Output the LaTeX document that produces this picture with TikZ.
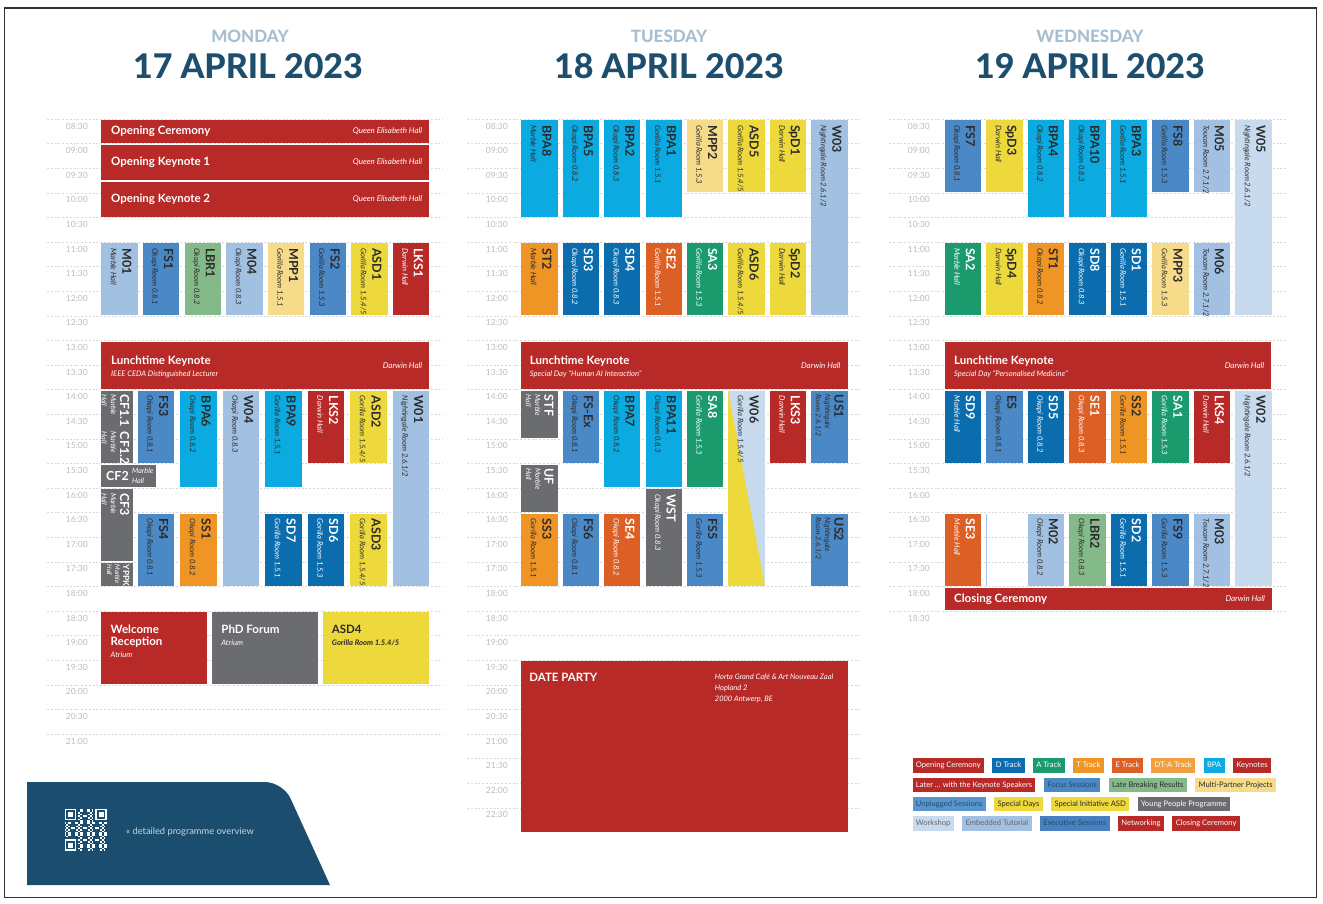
\documentclass[tikz,border=0pt]{standalone}
\usepackage{fontspec}
\setmainfont{Lato}
\newfontfamily\headfont{Lato Heavy}
\usetikzlibrary{positioning}

\definecolor{cKn}{HTML}{B82A27}
\definecolor{cSD}{HTML}{0B6DAE}
\definecolor{cSA}{HTML}{1B9A6E}
\definecolor{cST}{HTML}{EE9526}
\definecolor{cSE}{HTML}{DC5F25}
\definecolor{cDTA}{HTML}{F0A040}
\definecolor{cBPA}{HTML}{0BAAE0}
\definecolor{cFS}{HTML}{4A88C6}
\definecolor{cUS}{HTML}{5A95CF}
\definecolor{cES}{HTML}{4A80BF}
\definecolor{cLBR}{HTML}{84B98A}
\definecolor{cMPP}{HTML}{F6DB8B}
\definecolor{cASD}{HTML}{EDD93C}
\definecolor{cYPP}{HTML}{6B6C6F}
\definecolor{cWS}{HTML}{C8DAEE}
\definecolor{cET}{HTML}{A2C0E2}
\definecolor{cDark}{HTML}{2A2A2A}
\definecolor{cBan}{HTML}{1B4D6E}
\definecolor{cBanTxt}{HTML}{C8D5E0}
\definecolor{cHead}{HTML}{1D4E6E}
\definecolor{cDay}{HTML}{A6C0D2}
\definecolor{cTime}{HTML}{BDBDBD}
\definecolor{cLine}{HTML}{D9D9D9}

% time of day -> y (in px)
\newcommand{\ty}[1]{(242+((#1)-11)*49.2)}
\newcommand{\sttl}{\fontsize{12.5}{12.5}\selectfont\bfseries\upshape}
\newcommand{\bttl}{\fontsize{11.5}{14}\selectfont\bfseries\upshape}
\newcommand{\bsub}{\fontsize{7.6}{14}\selectfont\mdseries\itshape}

\tikzset{
  sbox/.style={rectangle,inner sep=0pt,anchor=north west,draw=none},
  vlbl/.style={rotate=-90,anchor=north west,align=left,inner sep=0pt,
    font=\fontsize{7.6}{11.6}\selectfont\itshape},
  vlbln/.style={vlbl,font=\fontsize{7.2}{9.2}\selectfont\itshape},
  hroom/.style={inner sep=0pt,font=\fontsize{8}{10}\selectfont\itshape},
  htext/.style={inner sep=0pt,align=left},
  timelbl/.style={anchor=east,inner sep=0pt,text=cTime,font=\fontsize{8.5}{10}\selectfont},
  slotline/.style={cLine,line width=0.6pt,dash pattern=on 2pt off 1.8pt},
  lg/.style={rectangle,inner xsep=3.4pt,inner ysep=0pt,minimum height=14.5,
    text height=5.7pt,text depth=1.7pt,font=\fontsize{7.6}{9}\selectfont},
  trkn/.style={fill=cKn,text=white},
  trsd/.style={fill=cSD,text=white},
  trsa/.style={fill=cSA,text=white},
  trst/.style={fill=cST,text=cDark},
  trse/.style={fill=cSE,text=white},
  trbpa/.style={fill=cBPA,text=cDark},
  trfs/.style={fill=cFS,text=cDark},
  trlbr/.style={fill=cLBR,text=cDark},
  trmpp/.style={fill=cMPP,text=cDark},
  trasd/.style={fill=cASD,text=cDark},
  tryp/.style={fill=cYPP,text=white},
  trws/.style={fill=cWS,text=cDark},
  tret/.style={fill=cET,text=cDark},
}

% session: name, x, width, from, to, style, title, room
\newcommand{\sess}[8]{%
  \node[sbox,#6,minimum width=#3,minimum height={((#5)-(#4))*49.2-2}] (#1) at (#2,{\ty{#4}+1}) {};
  \node[vlbl,#6,fill=none] (#1l) at ([xshift=-6pt,yshift=-5pt]#1.north east) {{\sttl #7}\\#8};}
\newcommand{\sessn}[8]{%
  \node[sbox,#6,minimum width=#3,minimum height={((#5)-(#4))*49.2-2}] (#1) at (#2,{\ty{#4}+1}) {};
  \node[vlbln,#6,fill=none] (#1l) at ([xshift=-4pt,yshift=-4pt]#1.north east) {{\sttl #7}\\#8};}
% wide block: name, x, width, from, to, style
\newcommand{\hblk}[6]{%
  \node[sbox,#6,minimum width=#3,minimum height={((#5)-(#4))*49.2-2}] (#1) at (#2,{\ty{#4}+1}) {};}
% time axis: tag, label x, line from, line to, last index
\newcommand{\dayaxis}[5]{%
  \foreach \i in {0,...,#5}{%
    \pgfmathtruncatemacro\hh{8+(\i+1)/2}%
    \pgfmathtruncatemacro\mm{mod(\i+1,2)*30}%
    \draw[slotline] (#3,{\ty{8.5+\i/2}}) -- (#4,{\ty{8.5+\i/2}});
    \node[timelbl] (tm#1\i) at (#2,{\ty{8.5+\i/2}+7}) {\ifnum\hh<10 0\fi\hh:\ifnum\mm=0 00\else30\fi};
  }}

\begin{document}
\begin{tikzpicture}[x=1pt,y=-1pt]

  \useasboundingbox (0,0) rectangle (1323,903);
  \fill[white] (0,0) rectangle (1323,903);
  \draw[line width=1.3pt,black!80] (4.5,8) rectangle (1316.5,897.5);

  % headers
  \node[font=\fontsize{17}{18}\selectfont\headfont,text=cDay] (monday) at (250,36) {MONDAY};
  \node[font=\fontsize{34}{36}\selectfont\headfont,text=cHead] (mondate) at (248,66) {17 APRIL 2023};
  \node[font=\fontsize{17}{18}\selectfont\headfont,text=cDay] (tuesday) at (669,36) {TUESDAY};
  \node[font=\fontsize{34}{36}\selectfont\headfont,text=cHead] (tuedate) at (669,66) {18 APRIL 2023};
  \node[font=\fontsize{17}{18}\selectfont\headfont,text=cDay] (wednesday) at (1090,36) {WEDNESDAY};
  \node[font=\fontsize{34}{36}\selectfont\headfont,text=cHead] (weddate) at (1090,66) {19 APRIL 2023};

  % time axes
  \dayaxis{mon}{88}{47}{443}{25}
  \dayaxis{tue}{508}{467}{862}{28}
  \dayaxis{wed}{930}{889}{1287}{20}

  % Monday

  \hblk{oc}{101}{328}{8.5}{9}{trkn}
  \node[htext,text=white,anchor=west] (octl) at ([xshift=10pt]oc.west) {\bttl Opening Ceremony};
  \node[hroom,text=white,anchor=east] (ocrm) at ([xshift=-7pt]oc.east) {Queen Elisabeth Hall};
  \hblk{okone}{101}{328}{9}{9.75}{trkn}
  \node[htext,text=white,anchor=west] (okonetl) at ([xshift=10pt]okone.west) {\bttl Opening Keynote 1};
  \node[hroom,text=white,anchor=east] (okonerm) at ([xshift=-7pt]okone.east) {Queen Elisabeth Hall};
  \hblk{oktwo}{101}{328}{9.75}{10.5}{trkn}
  \node[htext,text=white,anchor=west] (oktwotl) at ([xshift=10pt]oktwo.west) {\bttl Opening Keynote 2};
  \node[hroom,text=white,anchor=east] (oktworm) at ([xshift=-7pt]oktwo.east) {Queen Elisabeth Hall};

  \sess{M01}{101}{36.3}{11}{12.5}{tret}{M01}{Marble Hall}
  \sess{FS1}{142.7}{36.3}{11}{12.5}{trfs}{FS1}{Okapi Room 0.8.1}
  \sess{LBR1}{184.3}{36.3}{11}{12.5}{trlbr}{LBR1}{Okapi Room 0.8.2}
  \sess{M04}{226}{36.3}{11}{12.5}{tret}{M04}{Okapi Room 0.8.3}
  \sess{MPP1}{267.6}{36.3}{11}{12.5}{trmpp}{MPP1}{Gorilla Room 1.5.1}
  \sess{FS2}{309.3}{36.3}{11}{12.5}{trfs}{FS2}{Gorilla Room 1.5.3}
  \sess{ASD1}{351}{36.3}{11}{12.5}{trasd}{ASD1}{Gorilla Room 1.5.4/5}
  \sess{LKS1}{392.6}{36.3}{11}{12.5}{trkn}{LKS1}{Darwin Hall}

  \hblk{lkmon}{101}{328}{13}{14}{trkn}
  \node[htext,text=white,anchor=west] (lkmontl) at ([xshift=10pt,yshift=-1.5pt]lkmon.west)
    {\bttl Lunchtime Keynote\\\fontsize{7.6}{12.5}\selectfont\mdseries\itshape IEEE CEDA Distinguished Lecturer};
  \node[hroom,text=white,anchor=east] (lkmonrm) at ([xshift=-7pt]lkmon.east) {Darwin Hall};

  \node[sbox,tryp,minimum width=32,minimum height={1.5*49.2-2}] (CFone) at (101,{\ty{14}+1}) {};
  \node[vlbln,text=white] (CFonea) at ([xshift=-4pt,yshift=-3.5pt]CFone.north east) {{\sttl CF1.1}\\Marble\\Hall};
  \node[vlbln,text=white] (CFoneb) at ([xshift=-4pt,yshift=-41pt]CFone.north east) {{\sttl CF1.2}\\Marble\\Hall};
  \hblk{CFtwo}{101}{55}{15.5}{16}{tryp}
  \node[htext,text=white,anchor=west] (CFtwotl) at ([xshift=5pt]CFtwo.west) {\sttl CF2};
  \node[htext,text=white,anchor=west,font=\fontsize{7.2}{9.2}\selectfont\itshape,right=3pt of CFtwotl] (CFtworm) {Marble\\Hall};
  \sessn{CFthree}{101}{32}{16}{17.5}{tryp}{CF3}{Marble\\Hall}
  \node[sbox,tryp,minimum width=32,minimum height={0.5*49.2-2}] (YPPK) at (101,{\ty{17.5}+1}) {};
  \node[vlbln,text=white,font=\fontsize{6.5}{8}\selectfont\itshape] (YPPKl) at ([xshift=-4pt,yshift=-1.5pt]YPPK.north east)
    {{\fontsize{8.5}{8.5}\selectfont\bfseries\upshape YPPK}\\Marble\\Hall};

  \sess{FS3}{137.7}{36.3}{14}{15.5}{trfs}{FS3}{Okapi Room 0.8.1}
  \sess{BPA6}{180.2}{36.3}{14}{16}{trbpa}{BPA6}{Okapi Room 0.8.2}
  \sess{W04}{222.7}{36.3}{14}{18}{tret}{W04}{Okapi Room 0.8.3}
  \sess{BPA9}{265.2}{36.3}{14}{16}{trbpa}{BPA9}{Gorilla Room 1.5.1}
  \sess{LKS2}{307.7}{36.3}{14}{15.5}{trkn}{LKS2}{Darwin Hall}
  \sess{ASD2}{350.2}{36.3}{14}{15.5}{trasd}{ASD2}{Gorilla Room 1.5.4/5}
  \sess{W01}{392.7}{36.3}{14}{18}{tret}{W01}{Nightingale Room 2.6.1/2}
  \sess{FS4}{137.7}{36.3}{16.5}{18}{trfs}{FS4}{Okapi Room 0.8.1}
  \sess{SS1}{180.2}{36.3}{16.5}{18}{trst}{SS1}{Okapi Room 0.8.2}
  \sess{SD7}{265.2}{36.3}{16.5}{18}{trsd}{SD7}{Gorilla Room 1.5.1}
  \sess{SD6}{307.7}{36.3}{16.5}{18}{trsd}{SD6}{Gorilla Room 1.5.3}
  \sess{ASD3}{350.2}{36.3}{16.5}{18}{trasd}{ASD3}{Gorilla Room 1.5.4/5}

  \hblk{wr}{101}{105.7}{18.5}{20}{trkn}
  \node[htext,text=white,anchor=north west] (wrtl) at ([xshift=9.5pt,yshift=-12.5pt]wr.north west)
    {\bttl Welcome\\\bttl Reception\\\bsub Atrium};
  \hblk{phd}{211.7}{105.7}{18.5}{20}{tryp}
  \node[htext,text=white,anchor=north west] (phdtl) at ([xshift=9.5pt,yshift=-12.5pt]phd.north west)
    {\bttl PhD Forum\\\fontsize{7.6}{11.5}\selectfont\mdseries\itshape Atrium};
  \hblk{asdfour}{322.7}{105.6}{18.5}{20}{trasd}
  \node[htext,text=cDark,anchor=north west] (asdfourtl) at ([xshift=9pt,yshift=-12.5pt]asdfour.north west)
    {\bttl ASD4\\\fontsize{7.6}{11.5}\selectfont\bfseries\itshape Gorilla Room 1.5.4/5};

  % Tuesday

  \sess{BPA8}{521}{36.3}{8.5}{10.5}{trbpa}{BPA8}{Marble Hall}
  \sess{BPA5}{562.4}{36.3}{8.5}{10.5}{trbpa}{BPA5}{Okapi Room 0.8.2}
  \sess{BPA2}{603.9}{36.3}{8.5}{10.5}{trbpa}{BPA2}{Okapi Room 0.8.3}
  \sess{BPA1}{645.3}{36.3}{8.5}{10.5}{trbpa}{BPA1}{Gorilla Room 1.5.1}
  \sess{MPP2}{686.7}{36.3}{8.5}{10}{trmpp}{MPP2}{Gorilla Room 1.5.3}
  \sess{ASD5}{728.2}{36.3}{8.5}{10}{trasd}{ASD5}{Gorilla Room 1.5.4/5}
  \sess{SpD1}{769.6}{36.3}{8.5}{10}{trasd}{SpD1}{Darwin Hall}
  \sess{W03}{811}{36.3}{8.5}{12.5}{tret}{W03}{Nightingale Room 2.6.1/2}

  \sess{ST2}{521}{36.3}{11}{12.5}{trst}{ST2}{Marble Hall}
  \sess{SD3}{562.4}{36.3}{11}{12.5}{trsd}{SD3}{Okapi Room 0.8.2}
  \sess{SD4}{603.9}{36.3}{11}{12.5}{trsd}{SD4}{Okapi Room 0.8.3}
  \sess{SE2}{645.3}{36.3}{11}{12.5}{trse}{SE2}{Gorilla Room 1.5.1}
  \sess{SA3}{686.7}{36.3}{11}{12.5}{trsa}{SA3}{Gorilla Room 1.5.3}
  \sess{ASD6}{728.2}{36.3}{11}{12.5}{trasd}{ASD6}{Gorilla Room 1.5.4/5}
  \sess{SpD2}{769.6}{36.3}{11}{12.5}{trasd}{SpD2}{Darwin Hall}

  \hblk{lktue}{520.7}{326.6}{13}{14}{trkn}
  \node[htext,text=white,anchor=west] (lktuetl) at ([xshift=9pt,yshift=-1.5pt]lktue.west)
    {\bttl Lunchtime Keynote\\\fontsize{7.6}{12.5}\selectfont\mdseries\itshape Special Day ``Human AI Interaction''};
  \node[hroom,text=white,anchor=east] (lktuerm) at ([xshift=-7pt]lktue.east) {Darwin Hall};

  \sessn{STF}{521}{36.3}{14}{15}{tryp}{STF}{Marble\\Hall}
  \sessn{UF}{521}{36.3}{15.5}{16.5}{tryp}{UF}{Marble\\Hall}
  \sess{SS3}{521}{36.3}{16.5}{18}{trst}{SS3}{Gorilla Room 1.5.1}
  \sess{FSEx}{562.4}{36.3}{14}{15.5}{trfs}{FS-Ex}{Okapi Room 0.8.1}
  \sess{FS6}{562.4}{36.3}{16.5}{18}{trfs}{FS6}{Okapi Room 0.8.1}
  \sess{BPA7}{603.9}{36.3}{14}{16}{trbpa}{BPA7}{Okapi Room 0.8.2}
  \sess{SE4}{603.9}{36.3}{16.5}{18}{trse}{SE4}{Okapi Room 0.8.2}
  \sess{BPA11}{645.3}{36.3}{14}{16}{trbpa}{BPA11}{Okapi Room 0.8.3}
  \sess{WST}{645.3}{36.3}{16}{18}{tryp}{WST}{Okapi Room 0.8.3}
  \sess{SA8}{686.7}{36.3}{14}{16}{trsa}{SA8}{Gorilla Room 1.5.3}
  \sess{FS5}{686.7}{36.3}{16.5}{18}{trfs}{FS5}{Gorilla Room 1.5.3}
  \node[sbox,trws,minimum width=36.3,minimum height={4*49.2-2}] (W06) at (728.2,{\ty{14}+1}) {};
  \fill[cASD] (W06.north west) -- (W06.south west) -- (W06.south east) -- cycle;
  \node[vlbl,text=cDark] (W06l) at ([xshift=-6pt,yshift=-5pt]W06.north east) {{\sttl W06}\\Gorilla Room 1.5.4/5};
  \sess{LKS3}{769.6}{36.3}{14}{15.5}{trkn}{LKS3}{Darwin Hall}
  \sessn{US1}{811}{36.3}{14}{15.5}{trfs}{US1}{Nightingale\\Room 2.6.1/2}
  \sessn{US2}{811}{36.3}{16.5}{18}{trfs}{US2}{Nightingale\\Room 2.6.1/2}

  \hblk{dp}{520.7}{326.6}{19.5}{23}{trkn}
  \node[htext,text=white,anchor=west] (dptl) at ([xshift=8.5pt,yshift=-16.5pt]dp.north west)
    {\fontsize{11.5}{14}\selectfont\bfseries DATE PARTY};
  \node[htext,text=white,anchor=north west,font=\fontsize{7.5}{10.7}\selectfont\itshape] (dprm)
    at ([xshift=194pt,yshift=-13pt]dp.north west)
    {Horta Grand Café \& Art Nouveau Zaal\\Hopland 2\\2000 Antwerp, BE};

  % Wednesday

  \sess{FS7}{944.5}{36.3}{8.5}{10}{trfs}{FS7}{Okapi Room 0.8.1}
  \sess{SpD3}{986}{36.3}{8.5}{10}{trasd}{SpD3}{Darwin Hall}
  \sess{BPA4}{1027.5}{36.3}{8.5}{10.5}{trbpa}{BPA4}{Okapi Room 0.8.2}
  \sess{BPA10}{1069}{36.3}{8.5}{10.5}{trbpa}{BPA10}{Okapi Room 0.8.3}
  \sess{BPA3}{1110.5}{36.3}{8.5}{10.5}{trbpa}{BPA3}{Gorilla Room 1.5.1}
  \sess{FS8}{1152}{36.3}{8.5}{10}{trfs}{FS8}{Gorilla Room 1.5.3}
  \sess{M05}{1193.5}{36.3}{8.5}{10}{tret}{M05}{Toucan Room 2.7.1/2}
  \sess{W05}{1235}{36.3}{8.5}{12.5}{trws}{W05}{Nightingale Room 2.6.1/2}

  \sess{SA2}{944.5}{36.3}{11}{12.5}{trsa}{SA2}{Marble Hall}
  \sess{SpD4}{986}{36.3}{11}{12.5}{trasd}{SpD4}{Darwin Hall}
  \sess{ST1}{1027.5}{36.3}{11}{12.5}{trst}{ST1}{Okapi Room 0.8.2}
  \sess{SD8}{1069}{36.3}{11}{12.5}{trsd}{SD8}{Okapi Room 0.8.3}
  \sess{SD1}{1110.5}{36.3}{11}{12.5}{trsd}{SD1}{Gorilla Room 1.5.1}
  \sess{MPP3}{1152}{36.3}{11}{12.5}{trmpp}{MPP3}{Gorilla Room 1.5.3}
  \sess{M06}{1193.5}{36.3}{11}{12.5}{tret}{M06}{Toucan Room 2.7.1/2}

  \hblk{lkwed}{945}{326}{13}{14}{trkn}
  \node[htext,text=white,anchor=west] (lkwedtl) at ([xshift=9pt,yshift=-1.5pt]lkwed.west)
    {\bttl Lunchtime Keynote\\\fontsize{7.6}{12.5}\selectfont\mdseries\itshape Special Day ``Personalised Medicine''};
  \node[hroom,text=white,anchor=east] (lkwedrm) at ([xshift=-7pt]lkwed.east) {Darwin Hall};

  \sess{SD9}{944.5}{36.3}{14}{15.5}{trsd}{SD9}{Marble Hall}
  \sess{ES}{986}{36.3}{14}{15.5}{trfs}{ES}{Okapi Room 0.8.1}
  \sess{SD5}{1027.5}{36.3}{14}{15.5}{trsd}{SD5}{Okapi Room 0.8.2}
  \sess{SE1}{1069}{36.3}{14}{15.5}{trse}{SE1}{Okapi Room 0.8.3}
  \sess{SS2}{1110.5}{36.3}{14}{15.5}{trst}{SS2}{Gorilla Room 1.5.1}
  \sess{SA1}{1152}{36.3}{14}{15.5}{trsa}{SA1}{Gorilla Room 1.5.3}
  \sess{LKS4}{1193.5}{36.3}{14}{15.5}{trkn}{LKS4}{Darwin Hall}
  \sess{W02}{1235}{36.3}{14}{18}{trws}{W02}{Nightingale Room 2.6.1/2}

  \sess{SE3}{944.5}{36.3}{16.5}{18}{trse}{SE3}{Marble Hall}
  \node[sbox,tret,minimum width=1.5,minimum height={1.5*49.2-2}] (wedgap) at (985.3,{\ty{16.5}+1}) {};
  \sess{M02}{1027.5}{36.3}{16.5}{18}{tret}{M02}{Okapi Room 0.8.2}
  \sess{LBR2}{1069}{36.3}{16.5}{18}{trlbr}{LBR2}{Okapi Room 0.8.3}
  \sess{SD2}{1110.5}{36.3}{16.5}{18}{trsd}{SD2}{Gorilla Room 1.5.1}
  \sess{FS9}{1152}{36.3}{16.5}{18}{trfs}{FS9}{Gorilla Room 1.5.3}
  \sess{M03}{1193.5}{36.3}{16.5}{18}{tret}{M03}{Toucan Room 2.7.1/2}

  \hblk{cc}{945}{326.7}{18}{18.5}{trkn}
  \node[htext,text=white,anchor=west] (cctl) at ([xshift=9pt]cc.west) {\bttl Closing Ceremony};
  \node[hroom,text=white,anchor=east] (ccrm) at ([xshift=-7pt]cc.east) {Darwin Hall};

  % legend
  \node[lg,trkn,anchor=west] (lgA1) at (912.3,765.5) {Opening Ceremony};
  \node[lg,trsd,right=8pt of lgA1] (lgA2) {D Track};
  \node[lg,trsa,right=8pt of lgA2] (lgA3) {A Track};
  \node[lg,trst,text=white,right=8pt of lgA3] (lgA4) {T Track};
  \node[lg,trse,right=8pt of lgA4] (lgA5) {E Track};
  \node[lg,fill=cDTA,text=white,right=8pt of lgA5] (lgA6) {DT-A Track};
  \node[lg,trbpa,text=white,right=8pt of lgA6] (lgA7) {BPA};
  \node[lg,trkn,right=8pt of lgA7] (lgA8) {Keynotes};

  \node[lg,trkn,anchor=west] (lgB1) at (912.3,785) {Later ... with the Keynote Speakers};
  \node[lg,fill=cFS,text=cHead,right=8pt of lgB1] (lgB2) {Focus Sessions};
  \node[lg,trlbr,right=8pt of lgB2] (lgB3) {Late Breaking Results};
  \node[lg,trmpp,right=8pt of lgB3] (lgB4) {Multi-Partner Projects};

  \node[lg,fill=cUS,text=cHead,anchor=west] (lgC1) at (912.3,804) {Unplugged Sessions};
  \node[lg,trasd,right=8pt of lgC1] (lgC2) {Special Days};
  \node[lg,trasd,right=8pt of lgC2] (lgC3) {Special Initiative ASD};
  \node[lg,tryp,right=8pt of lgC3] (lgC4) {Young People Programme};

  \node[lg,trws,text=black!60,anchor=west] (lgD1) at (912.3,823.3) {Workshop};
  \node[lg,tret,text=black!60,right=8pt of lgD1] (lgD2) {Embedded Tutorial};
  \node[lg,fill=cES,text=cHead,right=8pt of lgD2] (lgD3) {Executive Sessions};
  \node[lg,trkn,right=8pt of lgD3] (lgD4) {Networking};
  \node[lg,trkn,right=8pt of lgD4] (lgD5) {Closing Ceremony};

  % banner with qr code
  \fill[cBan] (27,885) -- (27,782) [rounded corners=18pt] -- (283,782) [sharp corners] -- (330,885) -- cycle;
  \foreach \i in {0,...,24}{
    \foreach \j in {0,...,24}{
      \pgfmathtruncatemacro\q{mod(\i*\i*3+\j*\j*5+\i*\j*7+\i+2*\j,7)<3 ? 1 : 0}
      \pgfmathtruncatemacro\z{((\i<8 && \j<8) || (\i>16 && \j<8) || (\i<8 && \j>16)) ? 1 : 0}
      \ifnum\q=1 \ifnum\z=0
        \fill[white] ({64.5+1.7*\i},{808.5+1.7*\j}) rectangle ++(1.7,1.7);
      \fi\fi
    }}
  \foreach \fx/\fy in {0/0,18/0,0/18}{
    \fill[white] ({64.5+1.7*\fx},{808.5+1.7*\fy}) rectangle ++(11.9,11.9);
    \fill[cBan] ({66.2+1.7*\fx},{810.2+1.7*\fy}) rectangle ++(8.5,8.5);
    \fill[white] ({67.9+1.7*\fx},{811.9+1.7*\fy}) rectangle ++(5.1,5.1);
  }
  \node[anchor=west,inner sep=0pt,text=cBanTxt,font=\fontsize{9.3}{11}\selectfont] (qrtxt) at (126,832)
    {« detailed programme overview};

\end{tikzpicture}
\end{document}
